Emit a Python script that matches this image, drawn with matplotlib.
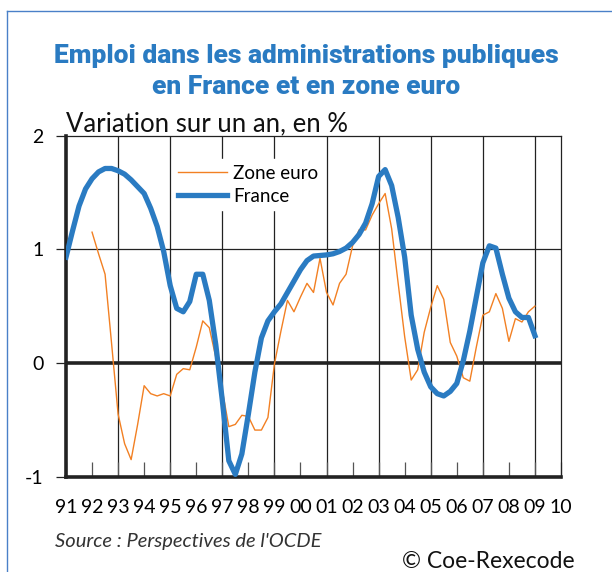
import numpy as np
import matplotlib
matplotlib.use("Agg")
import matplotlib.pyplot as plt
from matplotlib.lines import Line2D

# quarterly year-on-year change (%)
france_start = 1991.0
france = [0.93, 1.16, 1.38, 1.53, 1.62, 1.68, 1.71, 1.71,
          1.69, 1.66, 1.61, 1.55, 1.49, 1.36, 1.20, 0.98,
          0.68, 0.48, 0.45, 0.54, 0.78, 0.78, 0.55, 0.16,
          -0.33, -0.86, -0.98, -0.80, -0.45, -0.08, 0.22, 0.37,
          0.45, 0.52, 0.62, 0.72, 0.82, 0.90, 0.94, 0.945,
          0.95, 0.96, 0.98, 1.01, 1.06, 1.13, 1.23, 1.40,
          1.64, 1.70, 1.56, 1.28, 0.93, 0.42, 0.12, -0.08,
          -0.21, -0.27, -0.29, -0.25, -0.18, 0.02, 0.28, 0.58,
          0.88, 1.03, 1.01, 0.78, 0.57, 0.45, 0.40, 0.40,
          0.24]

euro_start = 1992.0
zone_euro = [1.15, 0.96, 0.78, 0.17, -0.45, -0.71, -0.85, -0.54,
             -0.20, -0.27, -0.29, -0.27, -0.29, -0.10, -0.05, -0.06,
             0.14, 0.37, 0.31, 0.05, -0.24, -0.56, -0.54, -0.46,
             -0.47, -0.59, -0.59, -0.48, -0.01, 0.28, 0.55, 0.45,
             0.58, 0.70, 0.62, 0.92, 0.62, 0.51, 0.70, 0.78,
             1.03, 1.17, 1.17, 1.30, 1.40, 1.49, 1.18, 0.70,
             0.23, -0.15, -0.06, 0.27, 0.49, 0.68, 0.56, 0.18,
             0.06, -0.13, -0.16, 0.14, 0.42, 0.45, 0.61, 0.48,
             0.19, 0.39, 0.36, 0.45, 0.50]

years = list(range(1991, 2011))
year_labels = [f"{y % 100:02d}" for y in years]
y_ticks = [-1, 0, 1, 2]

BLUE = '#2a7bc2'
ORANGE = '#f28023'
FONT = ['Lato', 'DejaVu Sans']
TITLE_FONT = ['Roboto', 'DejaVu Sans']

t_fr = france_start + 0.25 * np.arange(len(france))
t_eu = euro_start + 0.25 * np.arange(len(zone_euro))

fig = plt.figure(figsize=(6.12, 5.72), dpi=100)
ax = fig.add_axes([66/612, 1 - 476.7/572, 495/612, 341.2/572])

ax.set_xlim(years[0], years[-1])
ax.set_ylim(-1, 2)

# grid: every two years, plus the 1 line; zero line heavy
for yr in years[2:-1:2]:
    ax.axvline(yr, color='#222222', lw=0.9, zorder=1)
ax.axhline(1, color='#222222', lw=0.9, zorder=1)
ax.axhline(0, color='#222222', lw=2.6, zorder=2)

ax.plot(t_eu, zone_euro, color=ORANGE, lw=1.0, label='Zone euro', zorder=3)
ax.plot(t_fr, france, color=BLUE, lw=3.8, label='France', zorder=4,
        solid_joinstyle='round')

for side in ['left', 'bottom']:
    ax.spines[side].set_linewidth(2.6)
    ax.spines[side].set_color('#222222')
for side in ['top', 'right']:
    ax.spines[side].set_linewidth(0.9)
    ax.spines[side].set_color('#222222')

ax.set_xticks(years)
ax.set_xticklabels(year_labels, family=FONT, fontsize=14)
ax.tick_params(axis='x', direction='in', length=11, width=0.9,
               color='#555555', pad=16)
ax.set_yticks(y_ticks)
ax.set_yticklabels([str(v) for v in y_ticks], family=FONT, fontsize=14)
ax.tick_params(axis='y', direction='out', length=7, width=0.9,
               color='#222222', pad=9)

leg = ax.legend(loc='upper left', bbox_to_anchor=(0.215, 0.93),
                frameon=True, fancybox=False, framealpha=1,
                edgecolor='white', prop={'family': FONT, 'size': 13.5},
                handlelength=2.6, handletextpad=0.35, labelspacing=0.3,
                borderpad=0.3, borderaxespad=0)
leg.set_zorder(5)

# titles
fig.text(0.5, 1 - 56/572, "Emploi dans les administrations publiques",
         ha='center', va='center', color=BLUE, fontsize=19,
         fontweight='black', family=TITLE_FONT)
fig.text(0.5, 1 - 87/572, "en France et en zone euro",
         ha='center', va='center', color=BLUE, fontsize=19,
         fontweight='black', family=TITLE_FONT)
fig.text(66/612, 1 - 124/572, "Variation sur un an, en %",
         ha='left', va='center', color='#111111', fontsize=18.5,
         family=FONT)

fig.text(55/612, 1 - 541/572, "Source : Perspectives de l'OCDE",
         ha='left', va='center', color='#333333', fontsize=14.5,
         style='italic', family=FONT)
fig.text(575/612, 1 - 562/572, "\u00a9 Coe-Rexecode",
         ha='right', va='center', color='#111111', fontsize=16.5,
         family=FONT)

# thin blue frame on top and left
fig.add_artist(Line2D([7/612, 7/612], [0, 1 - 11/572],
                      transform=fig.transFigure, color='#4a80c8', lw=1.0))
fig.add_artist(Line2D([7/612, 1], [1 - 11/572, 1 - 11/572],
                      transform=fig.transFigure, color='#4a80c8', lw=1.0))

fig.savefig('out.png', dpi=100)
